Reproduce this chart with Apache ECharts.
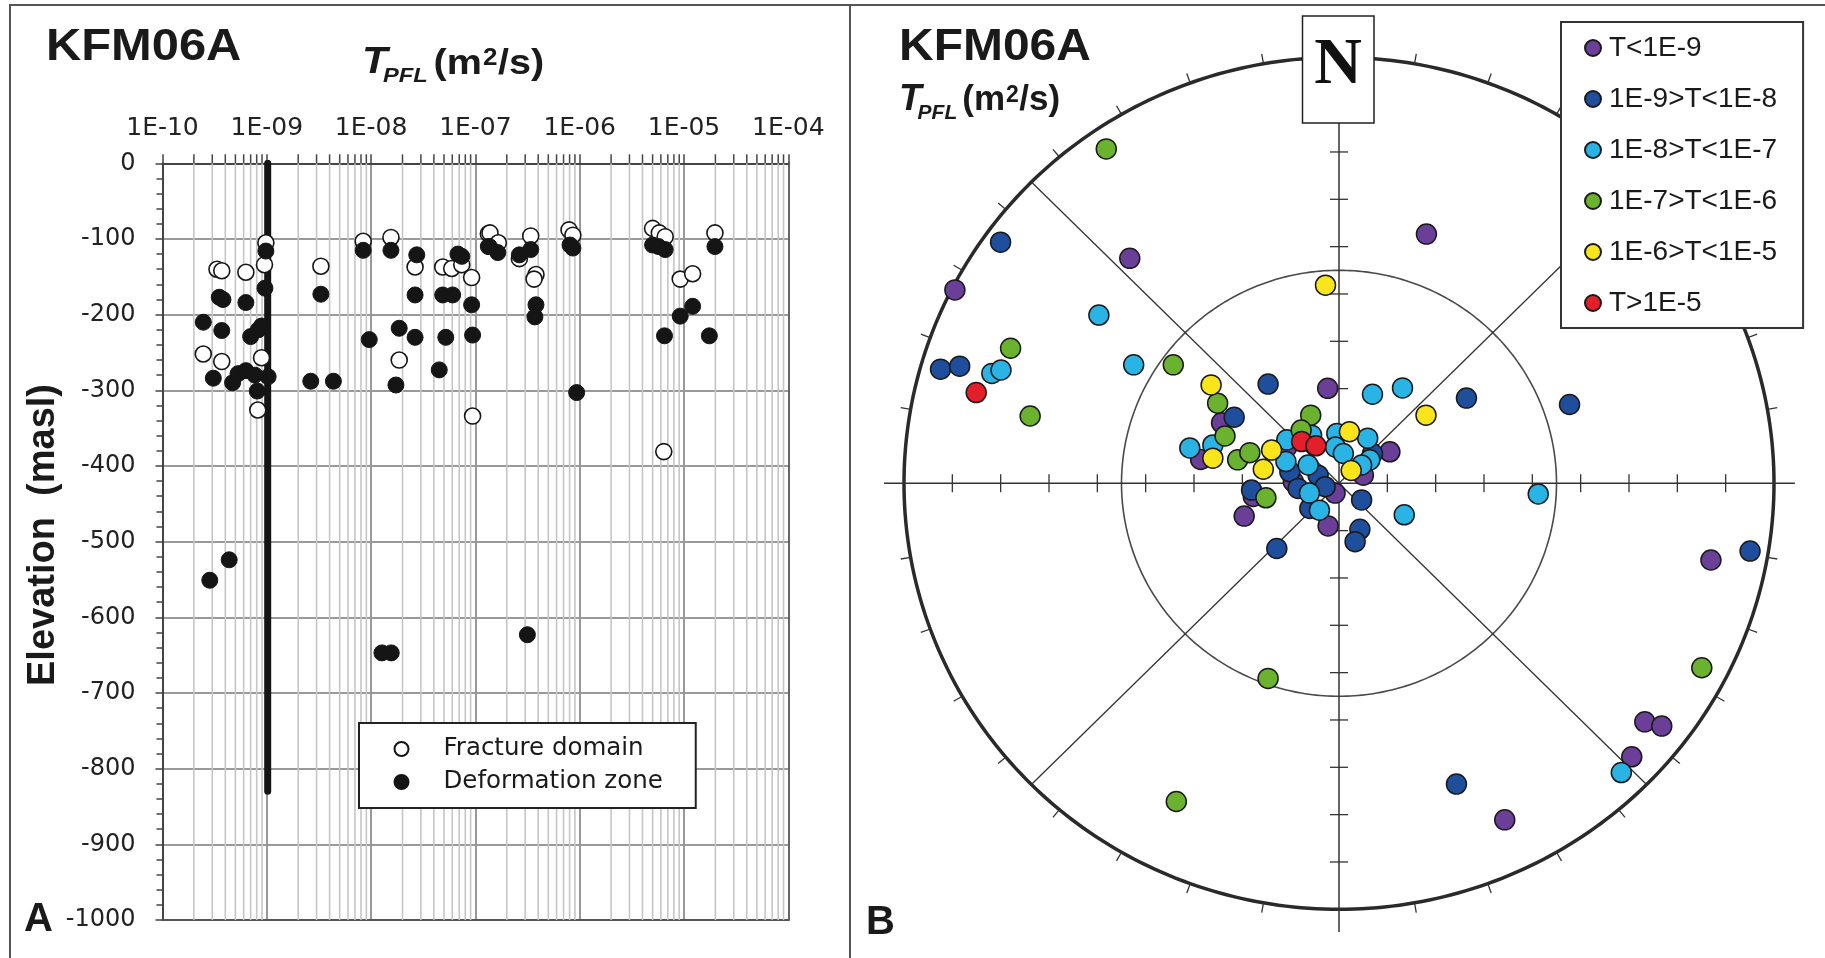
<!DOCTYPE html>
<html>
<head>
<meta charset="utf-8">
<script src="https://cdn.jsdelivr.net/npm/echarts@6/dist/echarts.min.js"></script>
<style>
html,body{margin:0;padding:0;background:#fff;}
#chart{width:1825px;height:958px;}
</style>
</head>
<body>
<div id="chart"></div>
<script>
// ---------------- DATA ----------------
const xTickLabels = ['1E-10','1E-09','1E-08','1E-07','1E-06','1E-05','1E-04'];
const minorMultipliers = [2,3,4,5,6,7,8,9];
const decadeStarts = [1e-10,1e-9,1e-8,1e-7,1e-6,1e-5];

// Panel A: fracture domain (open circles)
const fractureT = [3.33e-10,3.7e-10,6.3e-10,9.8e-10,9.5e-10,3.3e-9,8.4e-9,1.55e-8,2.64e-8,4.86e-8,5.93e-8,7.4e-8,9.2e-8,1.33e-7,
  2.46e-10,3.7e-10,8.9e-10,1.86e-8,8.2e-10,9.4e-8,6.4e-6,1.38e-7,1.66e-7,3.39e-7,2.64e-7,3.81e-7,3.65e-7,7.9e-7,8.6e-7,
  5.0e-6,5.8e-6,6.6e-6,9.2e-6,1.21e-5,1.98e-5];
const fractureElev = [-140,-142,-144,-105,-134,-136,-103,-98,-137,-137,-139,-134,-151,-93,
  -252,-262,-257,-260,-326,-334,-381,-92,-105,-96,-126,-147,-153,-88,-95,
  -86,-92,-97,-153,-146,-92];

// Panel A: deformation zone (filled circles)
const deformT = [9.8e-10,9.6e-10,3.5e-10,3.8e-10,6.3e-10,3.3e-9,8.4e-9,1.55e-8,2.74e-8,6.8e-8,7.4e-8,2.64e-8,4.86e-8,6.05e-8,
  9.2e-8,1.33e-7,2.46e-10,3.7e-10,7.0e-10,8.3e-10,8.9e-10,9.6e-9,1.86e-8,2.64e-8,5.2e-8,9.4e-8,3.07e-10,4.7e-10,5.3e-10,
  6.3e-10,7.7e-10,1.03e-9,8.1e-10,2.64e-9,4.35e-9,1.73e-8,4.5e-8,1.36e-7,1.64e-7,2.64e-7,3.39e-7,3.81e-7,3.72e-7,8.07e-7,
  8.6e-7,5.0e-6,5.7e-6,6.6e-6,9.2e-6,1.21e-5,6.5e-6,1.75e-5,1.98e-5,9.35e-7,2.84e-10,4.36e-10,1.27e-8,1.56e-8,3.15e-7];
const deformElev = [-116,-165,-177,-180,-184,-173,-115,-115,-121,-120,-123,-174,-174,-174,
  -187,-110,-210,-221,-229,-220,-215,-233,-218,-230,-230,-227,-284,-290,-278,
  -274,-280,-282,-301,-288,-288,-293,-273,-110,-118,-121,-114,-187,-203,-108,
  -112,-108,-110,-114,-202,-189,-228,-228,-110,-303,-551,-524,-647,-647,-623];

// Panel A: long deformation-zone interval (thick bar)
const zoneIntervalT = 1.02e-9;
const zoneIntervalTop = 0;
const zoneIntervalBottom = -830;

// Panel B: stereonet poles, [east, north] in units of the net radius
const classNames = ['T<1E-9','1E-9>T<1E-8','1E-8>T<1E-7','1E-7>T<1E-6','1E-6>T<1E-5','T>1E-5'];
const classColors = ['#6b3e98','#1f4f9c','#2ab4e6','#6bb22f','#f9e51b','#e3202a'];
const polesClass1 = [[0.201,0.585],[-0.481,0.528],[-0.883,0.454],[-0.026,0.223],[-0.270,0.142],[-0.318,0.056],
  [-0.105,0.004],[-0.009,-0.023],[-0.025,-0.100],[-0.197,-0.031],[-0.218,-0.077],[0.117,0.074],[0.056,0.019],
  [-0.120,0.085],[0.855,-0.180],[0.703,-0.560],[0.742,-0.570],[0.673,-0.642],[0.381,-0.790]];
const polesClass2 = [[-0.778,0.566],[-0.916,0.268],[-0.872,0.275],[-0.163,0.233],[0.293,0.200],[0.530,0.185],
  [-0.241,0.155],[-0.113,0.027],[-0.048,0.019],[-0.094,-0.012],[-0.032,-0.008],[-0.067,-0.059],[0.052,-0.039],
  [0.048,-0.108],[0.037,-0.137],[-0.143,-0.153],[-0.201,-0.016],[0.077,0.070],[0.945,-0.159],[0.270,-0.706]];
const polesClass3 = [[-0.552,0.395],[-0.798,0.258],[-0.777,0.266],[-0.472,0.278],[0.077,0.209],[0.146,0.224],
  [-0.290,0.090],[-0.343,0.083],[-0.120,0.102],[-0.063,0.113],[-0.122,0.051],[-0.071,0.043],[-0.068,-0.023],
  [-0.045,-0.063],[-0.005,0.117],[0.066,0.106],[-0.008,0.085],[0.010,0.070],[0.071,0.055],[0.052,0.043],
  [0.150,-0.074],[0.458,-0.025],[0.649,-0.679]];
const polesClass4 = [[-0.535,0.785],[-0.755,0.317],[-0.710,0.158],[-0.381,0.278],[-0.279,0.188],[-0.262,0.111],
  [-0.233,0.055],[-0.205,0.072],[-0.065,0.160],[-0.087,0.125],[-0.168,-0.034],[0.834,-0.433],[-0.163,-0.458],
  [-0.374,-0.747]];
const polesClass5 = [[-0.031,0.465],[-0.294,0.231],[0.200,0.160],[-0.290,0.059],[-0.155,0.078],[-0.174,0.033],
  [0.024,0.121],[0.028,0.030]];
const polesClass6 = [[-0.834,0.213],[-0.086,0.098],[-0.053,0.088]];
const polesByClass = [polesClass1,polesClass2,polesClass3,polesClass4,polesClass5,polesClass6];

// ---------------- CHART ----------------
const SANS = '"Liberation Sans", Arial, sans-serif';
const WIDE = '"DejaVu Sans", sans-serif';
const chart = echarts.init(document.getElementById('chart'), null, {renderer:'canvas'});

const mctx = document.createElement('canvas').getContext('2d');
function measure(font, text){ mctx.font = font; return mctx.measureText(text).width; }
function txt(text, font, x, y, extra){
  return Object.assign({type:'text', x:x, y:y, z:100,
    style:{text:text, font:font, fill:'#1a1a1a', textAlign:'left', textVerticalAlign:'middle', verticalAlign:'middle'}}, extra||{});
}
function tpflGroup(x0, base, sx){
  const fT = 37, fSub = 21, fMain = 35, fSup = 23;
  const fontT = 'italic bold ' + fT + 'px ' + SANS;
  const fontSub = 'italic bold ' + fSub + 'px ' + SANS;
  const fontMain = 'bold ' + fMain + 'px ' + SANS;
  const fontSup = 'bold ' + fSup + 'px ' + SANS;
  const k = 0.3465;
  const ch = [];
  let x = 0;
  ch.push(txt('T', fontT, 0, base - k*fT));
  x = measure(fontT,'T') - 4;
  ch.push(txt('PFL', fontSub, x, base + 7.3 - k*fSub));
  x += measure(fontSub,'PFL') + 5;
  ch.push(txt('(m', fontMain, x, base - k*fMain));
  x += measure(fontMain,'(m') + 1;
  ch.push(txt('2', fontSup, x, base - 9 - k*fSup));
  x += measure(fontSup,'2') + 0.5;
  ch.push(txt('/s)', fontMain, x, base - k*fMain));
  return {type:'group', x:x0, y:0, scaleX:sx, z:100, children:ch};
}

const minorPositions = [];
decadeStarts.forEach(d => minorMultipliers.forEach(m => minorPositions.push([m*d, 0])));

function expLabel(v){
  const e = Math.round(Math.log10(v));
  return xTickLabels[e + 10] || '';
}

const option = {
  animation: false,
  backgroundColor: '#fff',
  grid: [
    {left:162.5, top:163.3, width:625.8, height:756.7, containLabel:false},
    {left:904, top:57.3, width:870, height:852, containLabel:false}
  ],
  xAxis: [
    {gridIndex:0, type:'log', logBase:10, min:1e-10, max:1e-4, splitNumber:6, position:'top',
     axisLine:{show:true, onZero:false, lineStyle:{color:'#444', width:2}},
     axisTick:{show:true, inside:false, length:9, lineStyle:{color:'#444', width:1.5}},
     axisLabel:{show:true, margin:22, fontSize:25, fontFamily:WIDE, color:'#222', formatter:expLabel},
     splitLine:{show:true, lineStyle:{color:'#999', width:2}},
     minorTick:{show:false}, minorSplitLine:{show:false}},
    {gridIndex:0, type:'log', logBase:10, min:1e-10, max:1e-4, position:'bottom',
     axisLine:{show:true, onZero:false, lineStyle:{color:'#555', width:2}},
     axisTick:{show:false}, axisLabel:{show:false}, splitLine:{show:false}},
    {gridIndex:1, type:'value', min:-1, max:1, show:false}
  ],
  yAxis: [
    {gridIndex:0, type:'value', min:-1000, max:0, interval:100, position:'left',
     axisLine:{show:true, onZero:false, lineStyle:{color:'#444', width:2}},
     axisTick:{show:true, inside:false, length:7, lineStyle:{color:'#444', width:1.5}},
     minorTick:{show:true, splitNumber:5, length:6, lineStyle:{color:'#444', width:1.5}},
     axisLabel:{margin:27, fontSize:24, fontFamily:WIDE, color:'#222', formatter: v => String(v)},
     splitLine:{show:true, lineStyle:{color:'#999', width:2}}},
    {gridIndex:0, type:'value', min:-1000, max:0, position:'right',
     axisLine:{show:true, onZero:false, lineStyle:{color:'#666', width:2}},
     axisTick:{show:false}, axisLabel:{show:false}, splitLine:{show:false}},
    {gridIndex:1, type:'value', min:-1, max:1, show:false}
  ],
  legend: [
    {data:['Fracture domain','Deformation zone'], orient:'vertical', left:359, top:723,
     padding:[13,33,13,34.5], itemWidth:14, itemHeight:14, itemGap:7, selectedMode:false,
     icon:'circle', backgroundColor:'#fff', borderColor:'#222', borderWidth:2, borderRadius:0,
     textStyle:{fontSize:24.5, fontFamily:WIDE, color:'#1a1a1a', lineHeight:26, padding:[0,0,0,30]}, z:20},
    {data:classNames, orient:'vertical', left:1561, top:22,
     padding:[11,26,10,23], itemWidth:16, itemHeight:16, itemGap:21, selectedMode:false,
     icon:'circle', backgroundColor:'#fff', borderColor:'#333', borderWidth:2, borderRadius:0,
     textStyle:{fontSize:28, fontFamily:SANS, color:'#1a1a1a', lineHeight:30, padding:[0,0,0,3]}, z:20}
  ],
  series: [
    {type:'custom', name:'minorGrid', xAxisIndex:0, yAxisIndex:0, silent:true, z:1, clip:false,
     data: minorPositions,
     renderItem: function(params, api){
       const top = api.coord([api.value(0), 0]);
       const bot = api.coord([api.value(0), -1000]);
       return {type:'group', children:[
         {type:'line', shape:{x1:top[0], y1:top[1], x2:bot[0], y2:bot[1]}, style:{stroke:'#c6c6c6', lineWidth:1.6}},
         {type:'line', shape:{x1:top[0], y1:top[1]-9, x2:top[0], y2:top[1]}, style:{stroke:'#444', lineWidth:1.5}}
       ]};
     }},
    {type:'line', name:'zoneInterval', xAxisIndex:0, yAxisIndex:0, silent:true, z:2, symbol:'none',
     data:[[zoneIntervalT, zoneIntervalTop],[zoneIntervalT, zoneIntervalBottom]],
     lineStyle:{color:'#151515', width:7, cap:'round'}},
    {type:'scatter', name:'Fracture domain', xAxisIndex:0, yAxisIndex:0, z:3, symbol:'circle', symbolSize:16,
     data: fractureT.map((t,i)=>[t, fractureElev[i]]),
     itemStyle:{color:'#fff', borderColor:'#151515', borderWidth:1.6, opacity:1}},
    {type:'scatter', name:'Deformation zone', xAxisIndex:0, yAxisIndex:0, z:4, symbol:'circle', symbolSize:16,
     data: deformT.map((t,i)=>[t, deformElev[i]]),
     itemStyle:{color:'#151515', borderColor:'#151515', borderWidth:1, opacity:1}},
    {type:'custom', name:'netFrame', xAxisIndex:2, yAxisIndex:2, silent:true, z:1, clip:false,
     data:[[0,0]],
     renderItem: function(params, api){
       const P = (u,v) => api.coord([u,v]);
       const c = P(0,0);
       const rx = P(1,0)[0] - c[0];
       const ry = c[1] - P(0,1)[1];
       const ell = (r) => { const pts=[]; for (let a=0;a<=360;a+=1){ const t=a*Math.PI/180; pts.push([c[0]+r*rx*Math.sin(t), c[1]-r*ry*Math.cos(t)]); } return pts; };
       const ch = [];
       const L = (x1,y1,x2,y2,w,col) => ch.push({type:'line', shape:{x1,y1,x2,y2}, style:{stroke:col||'#333', lineWidth:w||1.3}});
       ch.push({type:'polyline', shape:{points:ell(1)}, style:{stroke:'#2a2a2a', lineWidth:3.5, fill:'none'}});
       ch.push({type:'polyline', shape:{points:ell(0.5)}, style:{stroke:'#4a4a4a', lineWidth:1.6, fill:'none'}});
       const d = Math.SQRT1_2;
       [[1,1],[1,-1],[-1,1],[-1,-1]].forEach(s => L(c[0], c[1], c[0]+s[0]*d*rx, c[1]-s[1]*d*ry, 1.3, '#333'));
       L(c[0]-1.046*rx, c[1], c[0]+1.048*rx, c[1], 1.5, '#333');
       L(c[0], c[1]-0.846*ry, c[0], c[1]+1.053*ry, 1.5, '#333');
       for (let k=1;k<=8;k++){
         [1,-1].forEach(s => {
           const x = c[0] + s*k/9*rx; L(x, c[1]-9, x, c[1]+9, 1.3, '#333');
           const y = c[1] + s*k/9*ry; L(c[0]-9, y, c[0]+9, y, 1.3, '#333');
         });
       }
       for (let deg=10; deg<360; deg+=10){
         if (deg % 90 === 0) continue;
         const t = deg*Math.PI/180;
         const px = c[0] + rx*Math.sin(t), py = c[1] - ry*Math.cos(t);
         L(px, py, px + 10*Math.sin(t), py - 10*Math.cos(t), 1.3, '#333');
       }
       return {type:'group', children:ch};
     }}
  ].concat(classNames.map((name, i) => ({
     type:'scatter', name:name, xAxisIndex:2, yAxisIndex:2, z:5, symbol:'circle', symbolSize:20,
     data: polesByClass[i],
     itemStyle:{color:classColors[i], borderColor:'#1a1a1a', borderWidth:1.5, opacity:1}
  }))),
  graphic: [
    {type:'line', z:100, shape:{x1:9, y1:5, x2:1825, y2:5}, style:{stroke:'#555', lineWidth:2}},
    {type:'line', z:100, shape:{x1:10, y1:5, x2:10, y2:958}, style:{stroke:'#555', lineWidth:2}},
    {type:'line', z:100, shape:{x1:850, y1:5, x2:850, y2:958}, style:{stroke:'#555', lineWidth:2}},
    txt('KFM06A', 'bold 44px ' + SANS, 46, 47.5, {scaleX:1.11}),
    txt('KFM06A', 'bold 44px ' + SANS, 899, 48.3, {scaleX:1.09}),
    tpflGroup(362, 76, 1.13),
    tpflGroup(899, 112.7, 1.0),
    {type:'text', x:44, y:535, rotation:Math.PI/2, z:100,
     style:{text:'Elevation  (masl)', font:'bold 38px ' + SANS, fill:'#1a1a1a', textAlign:'center', textVerticalAlign:'middle', verticalAlign:'middle'}},
    txt('A', 'bold 40px ' + SANS, 24, 919.5),
    txt('B', 'bold 40px ' + SANS, 866, 923),
    {type:'rect', z:100, shape:{x:1302.5, y:16, width:71.5, height:107}, style:{fill:'#fff', stroke:'#222', lineWidth:1.5}},
    {type:'text', x:1338, y:66, z:101,
     style:{text:'N', font:'bold 66px "Liberation Serif", "Times New Roman", serif', fill:'#111', textAlign:'center', textVerticalAlign:'middle', verticalAlign:'middle'}}
  ]
};
chart.setOption(option);
</script>
</body>
</html>
